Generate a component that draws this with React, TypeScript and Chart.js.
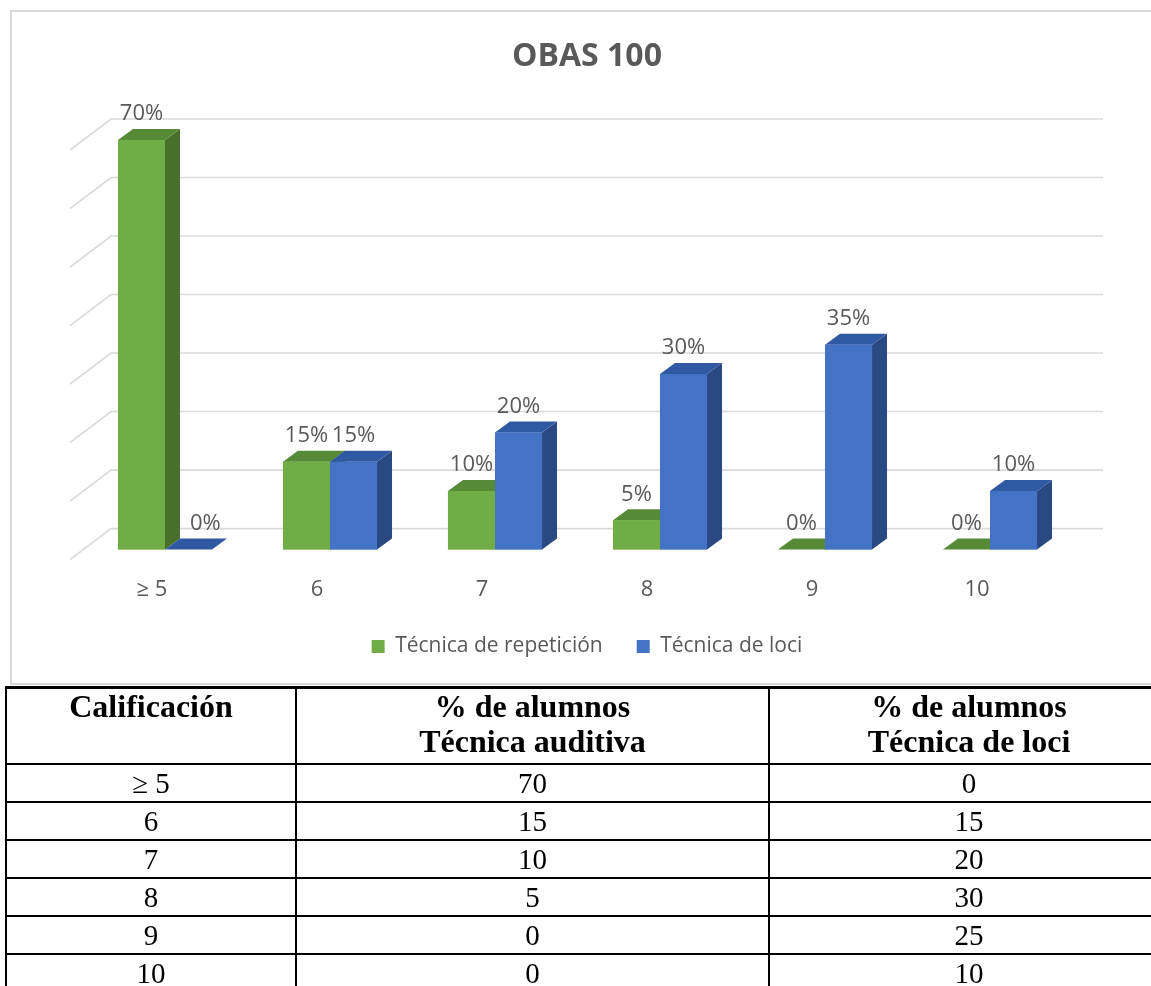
import React, { useEffect, useRef } from "react";
import { Chart, registerables } from "chart.js";

Chart.register(...registerables);

// ---- data ----
const chartTitle = "OBAS 100";
const categories = ["≥ 5", "6", "7", "8", "9", "10"];
const seriesNames = ["Técnica de repetición", "Técnica de loci"];
const repeticion = [70, 15, 10, 5, 0, 0];
const loci = [0, 15, 20, 30, 35, 10];
const yTicks = [0, 10, 20, 30, 40, 50, 60, 70];

const tableHead1 = "Calificación";
const tableHead2 = ["% de alumnos", "Técnica auditiva"];
const tableHead3 = ["% de alumnos", "Técnica de loci"];
const tableGrades = ["≥ 5", "6", "7", "8", "9", "10"];
const tableAuditiva = [70, 15, 10, 5, 0, 0];
const tableLoci = [0, 15, 20, 30, 25, 10];

// ---- styles ----
const FONT = "'Open Sans', 'Noto Sans', sans-serif";
const TEXT = "#595959";
const FRONT = ["#70AD47", "#4472C4"];
const TOP = ["#568A36", "#3059A3"];
const SIDE = ["#48702A", "#2A4983"];
const DX = 15;
const DY = -11;

const wallPlugin = {
  id: "wall3d",
  beforeDatasetsDraw(chart: any) {
    const { ctx, chartArea } = chart;
    const y = chart.scales.y;
    ctx.save();
    ctx.strokeStyle = "#d9d9d9";
    ctx.lineWidth = 1.6;
    for (const v of yTicks) {
      const yb = y.getPixelForValue(v) - 21;
      ctx.beginPath();
      ctx.moveTo(chartArea.left - 12.5, yb + 31);
      ctx.lineTo(chartArea.left + 28.5, yb);
      ctx.lineTo(chartArea.right + 30.5, yb);
      ctx.stroke();
    }
    ctx.restore();
  },
};

const bars3dPlugin = {
  id: "bars3d",
  afterDatasetsDraw(chart: any) {
    const { ctx } = chart;
    const items: any[] = [];
    chart.data.datasets.forEach((ds: any, di: number) => {
      const meta = chart.getDatasetMeta(di);
      meta.data.forEach((bar: any, i: number) => {
        const p = bar.getProps(["x", "y", "base", "width"], true);
        items.push({ p, di, i, v: ds.data[i] });
      });
    });
    items.sort((a, b) => a.p.x - b.p.x);
    ctx.save();
    for (const it of items) {
      const { x, y, base, width } = it.p;
      const l = x - width / 2;
      const r = x + width / 2;
      ctx.fillStyle = SIDE[it.di];
      ctx.beginPath();
      ctx.moveTo(r, y);
      ctx.lineTo(r + DX, y + DY);
      ctx.lineTo(r + DX, base + DY);
      ctx.lineTo(r, base);
      ctx.closePath();
      ctx.fill();
      ctx.fillStyle = TOP[it.di];
      ctx.beginPath();
      ctx.moveTo(l, y);
      ctx.lineTo(r, y);
      ctx.lineTo(r + DX, y + DY);
      ctx.lineTo(l + DX, y + DY);
      ctx.closePath();
      ctx.fill();
      ctx.fillStyle = FRONT[it.di];
      ctx.fillRect(l, y, width, base - y);
    }
    ctx.font = `22px ${FONT}`;
    ctx.fillStyle = TEXT;
    ctx.textBaseline = "middle";
    ctx.textAlign = "center";
    for (const it of items) {
      const { x, y, width } = it.p;
      const text = `${it.v}%`;
      const tw = ctx.measureText(text).width;
      let cx = x;
      if (it.di > 0) {
        const prev = chart.data.datasets[it.di - 1].data[it.i];
        if (prev > it.v) cx = x - width / 2 + DX + 10 + tw / 2;
      }
      ctx.fillText(text, cx, y - 26);
    }
    ctx.restore();
  },
};

export default function App() {
  const ref = useRef<HTMLCanvasElement>(null);
  useEffect(() => {
    const chart = new Chart(ref.current as HTMLCanvasElement, {
      type: "bar",
      data: {
        labels: categories,
        datasets: [
          { label: seriesNames[0], data: repeticion, backgroundColor: FRONT[0] },
          { label: seriesNames[1], data: loci, backgroundColor: FRONT[1] },
        ],
      },
      options: {
        responsive: false,
        animation: false,
        events: [],
        datasets: { bar: { categoryPercentage: 0.57, barPercentage: 1 } } as any,
        layout: { padding: { left: 70.5, right: 70.5, top: 0, bottom: 15 } },
        plugins: {
          title: {
            display: true,
            text: chartTitle,
            color: TEXT,
            font: { family: FONT, size: 32, weight: "bold" },
            padding: { top: 25.8, bottom: 63.8 },
          },
          legend: {
            position: "bottom",
            labels: {
              boxWidth: 13,
              boxHeight: 13,
              color: TEXT,
              padding: 34,
              font: { family: FONT, size: 21 },
            },
          },
          tooltip: { enabled: false },
        },
        scales: {
          x: {
            grid: { display: false, drawTicks: false },
            border: { display: false },
            ticks: { color: TEXT, font: { family: FONT, size: 22 }, padding: 27, labelOffset: -13 },
            afterFit: (s: any) => {
              s.height = s.height - 28;
            },
          },
          y: {
            position: "right",
            min: 0,
            max: 70,
            grid: { display: false, drawTicks: false },
            border: { display: false },
            ticks: { display: false },
            afterFit: (s: any) => {
              s.width = 19;
            },
          },
        },
      } as any,
      plugins: [wallPlugin, bars3dPlugin],
    });
    return () => chart.destroy();
  }, []);

  const cell: React.CSSProperties = {
    border: "2px solid #000",
    padding: 0,
    textAlign: "center",
    fontFamily: "'Liberation Serif', 'Times New Roman', serif",
    fontSize: 29,
    lineHeight: "34px",
    color: "#000",
  };
  const head: React.CSSProperties = {
    ...cell,
    fontWeight: "bold",
    fontSize: 32,
    lineHeight: "35px",
    verticalAlign: "top",
    height: 74,
  };
  const row: React.CSSProperties = { ...cell, height: 36 };

  return (
    <div
      style={{
        position: "fixed",
        left: 0,
        top: 0,
        width: 1151,
        height: 986,
        overflow: "hidden",
        background: "#fff",
      }}
    >
      <canvas
        ref={ref}
        width={1150}
        height={670}
        style={{ position: "absolute", left: 12, top: 12, width: 1150, height: 670 }}
      />
      <div
        style={{
          position: "absolute",
          left: 10,
          top: 10,
          width: 1170,
          height: 675,
          boxSizing: "border-box",
          border: "2px solid #d9d9d9",
          pointerEvents: "none",
        }}
      />
      <table
        style={{
          position: "absolute",
          left: 5,
          top: 686,
          borderCollapse: "collapse",
          tableLayout: "fixed",
          width: 1163,
          borderTop: "3px solid #000",
        }}
      >
        <colgroup>
          <col style={{ width: 290 }} />
          <col style={{ width: 473 }} />
          <col style={{ width: 400 }} />
        </colgroup>
        <thead>
          <tr>
            <th style={head}>{tableHead1}</th>
            <th style={head}>
              {tableHead2[0]}
              <br />
              {tableHead2[1]}
            </th>
            <th style={head}>
              {tableHead3[0]}
              <br />
              {tableHead3[1]}
            </th>
          </tr>
        </thead>
        <tbody>
          {tableGrades.map((g, i) => (
            <tr key={g}>
              <td style={row}>{g}</td>
              <td style={row}>{tableAuditiva[i]}</td>
              <td style={row}>{tableLoci[i]}</td>
            </tr>
          ))}
        </tbody>
      </table>
    </div>
  );
}
